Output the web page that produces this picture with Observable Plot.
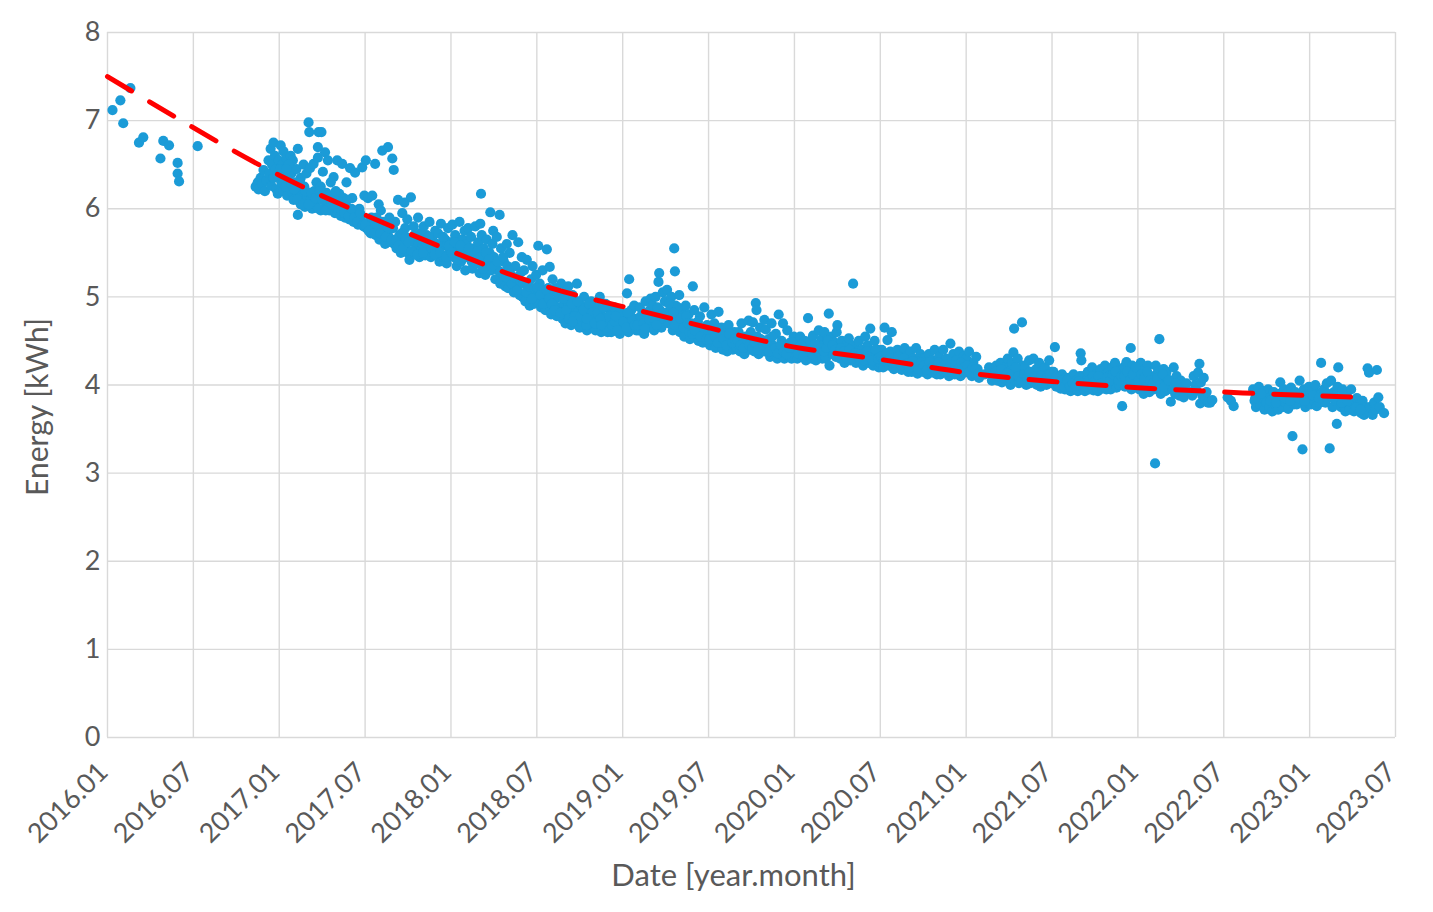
<!DOCTYPE html>
<html>
<head>
<meta charset="utf-8">
<script src="https://cdn.jsdelivr.net/npm/d3@7"></script>
<script src="https://cdn.jsdelivr.net/npm/@observablehq/plot@0.6"></script>
<style>
  html, body { margin: 0; padding: 0; background: #fff; }
  #chart svg { display: block; }
</style>
</head>
<body>
<div id="chart"></div>
<script>
// Tick labels (every 6 months from 2016.01)
const tickLabels = ["2016.01","2016.07","2017.01","2017.07","2018.01","2018.07","2019.01","2019.07","2020.01","2020.07","2021.01","2021.07","2022.01","2022.07","2023.01","2023.07"];
const yTicks = [0,1,2,3,4,5,6,7,8];

// Measured energy: [month offset within year (0 = Jan 1), kWh]
const e2016 = [[0.35,7.12],[0.9,7.23],[1.6,7.37],[1.1,6.97],[2.2,6.75],[2.5,6.81],[3.7,6.57],[3.9,6.77],[4.3,6.72],[4.9,6.52],[4.9,6.40],[5.0,6.31],[6.3,6.71],
[10.35,6.25],[10.5,6.3],[10.55,6.22],[10.7,6.35],[10.8,6.28],[10.9,6.44],[11.0,6.2],[11.1,6.32],[11.25,6.55],[11.3,6.4],[11.4,6.68],[11.45,6.26],[11.5,6.5],[11.6,6.75],[11.6,6.35],[11.7,6.6],[11.75,6.45],[11.8,6.22],[11.9,6.17],[11.9,6.38],[11.95,6.55]];

const e2017 = [[0.1,6.72],[0.15,6.3],[0.2,6.5],[0.3,6.65],[0.3,6.2],[0.4,6.4],[0.5,6.58],[0.55,6.15],[0.6,6.33],[0.7,6.48],[0.75,6.25],[0.8,6.6],[0.85,6.4],[0.9,6.18],[0.95,6.55],
[1.0,6.1],[1.1,6.3],[1.2,6.45],[1.3,5.93],[1.3,6.68],[1.4,6.2],[1.5,6.05],[1.5,6.35],[1.6,6.12],[1.7,6.5],[1.75,6.25],[1.8,6.02],[1.9,6.4],[1.95,6.15],[2.05,6.98],[2.1,6.87],
[2.15,6.46],[2.2,6.1],[2.3,6.0],[2.4,6.51],[2.45,6.2],[2.5,6.05],[2.6,6.3],[2.7,6.7],[2.7,6.58],[2.75,6.87],[2.8,6.12],[2.9,5.98],[2.95,6.87],[2.9,6.25],
[3.05,6.42],[3.1,6.0],[3.2,6.64],[3.3,6.18],[3.35,6.05],[3.4,6.55],[3.5,5.98],[3.6,6.3],[3.7,6.02],[3.8,6.36],[3.85,6.1],[3.9,5.95],
[4.0,6.0],[4.05,6.55],[4.1,5.95],[4.2,6.17],[4.3,5.92],[4.4,6.51],[4.45,6.05],[4.5,6.12],[4.6,5.9],[4.7,6.3],[4.8,6.0],[4.9,5.88],[4.95,6.46],
[5.0,5.9],[5.1,6.12],[5.2,5.85],[5.3,6.41],[5.4,5.92],[5.5,5.82],[5.6,6.0],[5.7,5.88],[5.8,6.47],[5.9,5.8],[5.95,6.15],
[6.05,6.55],[6.1,5.78],[6.2,6.12],[6.3,5.85],[6.4,5.72],[6.5,6.15],[6.6,5.8],[6.7,6.51],[6.75,5.7],[6.8,5.9],[6.9,5.75],[6.95,6.05],
[7.0,5.65],[7.1,5.98],[7.2,6.66],[7.3,5.75],[7.4,5.6],[7.5,5.82],[7.6,6.7],[7.6,5.7],[7.7,5.9],[7.8,5.62],[7.9,6.57],[7.95,5.78],
[8.0,6.44],[8.05,5.6],[8.1,5.85],[8.2,5.55],[8.3,6.1],[8.4,5.7],[8.5,5.5],[8.6,5.95],[8.7,5.62],[8.75,6.07],[8.8,5.78],[8.9,5.52],[8.95,5.88],
[9.0,5.5],[9.1,5.42],[9.2,6.13],[9.3,5.65],[9.4,5.8],[9.5,5.48],[9.6,5.58],[9.7,5.9],[9.8,5.45],[9.85,5.72],[9.95,5.55],
[10.0,5.6],[10.1,5.8],[10.2,5.47],[10.3,5.7],[10.4,5.55],[10.5,5.85],[10.6,5.45],[10.7,5.65],[10.8,5.52],[10.9,5.75],[10.95,5.6],
[11.0,5.5],[11.1,5.72],[11.2,5.4],[11.3,5.83],[11.4,5.58],[11.5,5.45],[11.6,5.65],[11.7,5.38],[11.8,5.78],[11.9,5.52],[11.95,5.62]];

const e2018 = [[0.0,5.6],[0.1,5.82],[0.2,5.45],[0.3,5.7],[0.4,5.35],[0.5,5.55],[0.6,5.85],[0.7,5.4],[0.8,5.65],[0.9,5.5],[0.95,5.75],
[1.0,5.3],[1.1,5.6],[1.2,5.78],[1.3,5.45],[1.4,5.68],[1.5,5.32],[1.6,5.55],[1.7,5.8],[1.8,5.38],[1.9,5.62],[1.95,5.5],[2.1,6.17],[2.05,5.83],
[2.0,5.27],[2.15,5.7],[2.2,5.4],[2.3,5.55],[2.4,5.25],[2.5,5.65],[2.6,5.35],[2.7,5.5],[2.75,5.96],[2.8,5.3],[2.9,5.6],[2.95,5.75],
[3.0,5.45],[3.1,5.2],[3.2,5.68],[3.3,5.3],[3.4,5.93],[3.45,5.15],[3.5,5.55],[3.6,5.25],[3.7,5.4],[3.8,5.12],[3.9,5.6],[3.95,5.35],
[4.0,5.1],[4.1,5.5],[4.2,5.25],[4.3,5.7],[4.4,5.05],[4.5,5.35],[4.6,5.15],[4.7,5.62],[4.8,5.02],[4.9,5.28],[4.95,5.45],
[5.0,5.0],[5.1,5.3],[5.2,4.95],[5.3,5.42],[5.4,5.1],[5.5,4.9],[5.6,5.2],[5.7,5.35],[5.8,4.92],[5.9,5.05],[5.95,5.25],
[6.0,4.95],[6.1,5.58],[6.2,5.15],[6.3,4.88],[6.4,5.3],[6.5,5.0],[6.6,4.85],[6.7,5.54],[6.8,5.1],[6.85,4.9],[6.9,5.34],[6.95,5.05],
[7.0,4.8],[7.1,5.2],[7.2,4.95],[7.3,5.1],[7.4,4.78],[7.5,5.0],[7.6,4.88],[7.7,5.15],[7.8,4.75],[7.9,4.92],[7.95,5.05],
[8.0,4.7],[8.1,4.95],[8.2,5.12],[8.3,4.8],[8.4,4.68],[8.5,5.02],[8.6,4.88],[8.7,4.72],[8.8,5.15],[8.9,4.85],[8.95,4.75],
[9.0,4.65],[9.1,4.9],[9.2,4.72],[9.3,5.0],[9.4,4.8],[9.5,4.62],[9.6,4.85],[9.7,4.7],[9.8,4.95],[9.9,4.75],[9.95,4.66],
[10.0,4.8],[10.1,4.62],[10.2,4.88],[10.3,4.7],[10.4,5.0],[10.5,4.6],[10.6,4.78],[10.7,4.66],[10.8,4.92],[10.9,4.72],[10.95,4.6],
[11.0,4.65],[11.1,4.85],[11.2,4.6],[11.3,4.75],[11.4,4.88],[11.5,4.62],[11.6,4.7],[11.7,4.8],[11.8,4.58],[11.9,4.72],[11.95,4.65]];

const e2019 = [[0.0,4.62],[0.1,4.78],[0.2,4.68],[0.3,5.04],[0.4,4.6],[0.45,5.2],[0.5,4.72],[0.6,4.85],[0.7,4.65],[0.8,4.9],[0.9,4.7],[0.95,4.62],
[1.0,4.75],[1.1,4.62],[1.2,4.88],[1.3,4.68],[1.4,4.8],[1.5,4.58],[1.6,4.95],[1.7,4.72],[1.8,4.65],[1.9,4.85],[1.95,4.98],
[2.0,4.7],[2.1,4.9],[2.2,4.62],[2.3,5.0],[2.4,4.78],[2.5,5.17],[2.55,5.27],[2.6,4.85],[2.7,4.65],[2.8,5.05],[2.9,4.75],[2.95,4.95],
[3.0,4.95],[3.1,5.08],[3.2,4.7],[3.3,4.85],[3.4,5.0],[3.5,4.62],[3.6,5.55],[3.65,5.29],[3.7,4.9],[3.8,4.68],[3.9,4.8],[3.95,5.02],
[4.0,4.6],[4.1,4.85],[4.2,4.72],[4.3,4.55],[4.4,4.9],[4.5,4.65],[4.6,4.8],[4.7,4.52],[4.8,4.7],[4.9,5.12],[4.95,4.6],
[5.0,4.85],[5.1,4.55],[5.2,4.7],[5.3,4.5],[5.4,4.78],[5.5,4.62],[5.6,4.48],[5.7,4.88],[5.8,4.58],[5.9,4.68],[5.95,4.5],
[6.0,4.6],[6.1,4.45],[6.2,4.8],[6.3,4.52],[6.4,4.7],[6.5,4.42],[6.6,4.58],[6.7,4.83],[6.8,4.48],[6.9,4.65],[6.95,4.45],
[7.0,4.4],[7.1,4.62],[7.2,4.5],[7.3,4.38],[7.4,4.68],[7.5,4.45],[7.6,4.55],[7.7,4.4],[7.8,4.6],[7.9,4.48],[7.95,4.42],
[8.0,4.42],[8.1,4.6],[8.2,4.38],[8.3,4.7],[8.4,4.5],[8.5,4.35],[8.6,4.55],[8.7,4.45],[8.8,4.73],[8.9,4.4],[8.95,4.6],
[9.0,4.5],[9.1,4.71],[9.2,4.38],[9.3,4.93],[9.35,4.85],[9.4,4.55],[9.5,4.35],[9.6,4.65],[9.7,4.42],[9.8,4.5],[9.9,4.74],[9.95,4.38],
[10.0,4.63],[10.1,4.4],[10.2,4.52],[10.3,4.32],[10.4,4.7],[10.5,4.45],[10.6,4.35],[10.7,4.58],[10.8,4.3],[10.9,4.8],[10.95,4.42],
[11.0,4.35],[11.1,4.5],[11.2,4.7],[11.3,4.3],[11.4,4.42],[11.5,4.62],[11.6,4.33],[11.7,4.48],[11.8,4.3],[11.9,4.4],[11.95,4.55]];

const e2020 = [[0.0,4.35],[0.1,4.48],[0.2,4.3],[0.3,4.42],[0.4,4.55],[0.5,4.32],[0.6,4.38],[0.7,4.5],[0.8,4.28],[0.9,4.4],[0.95,4.76],
[1.0,4.33],[1.1,4.5],[1.2,4.3],[1.3,4.56],[1.4,4.4],[1.5,4.28],[1.6,4.45],[1.7,4.62],[1.8,4.35],[1.9,4.52],[1.95,4.3],
[2.0,4.45],[2.1,4.6],[2.2,4.3],[2.3,4.52],[2.4,4.81],[2.45,4.22],[2.5,4.4],[2.6,4.55],[2.7,4.35],[2.8,4.48],[2.9,4.32],[2.95,4.6],
[3.0,4.68],[3.1,4.4],[3.2,4.3],[3.3,4.5],[3.4,4.35],[3.5,4.25],[3.6,4.45],[3.7,4.32],[3.8,4.53],[3.9,4.28],[3.95,4.38],
[4.0,4.35],[4.1,5.15],[4.15,4.3],[4.2,4.45],[4.3,4.25],[4.4,4.38],[4.5,4.5],[4.6,4.28],[4.7,4.4],[4.8,4.22],[4.9,4.35],[4.95,4.55],
[5.0,4.3],[5.1,4.45],[5.2,4.25],[5.3,4.64],[5.4,4.38],[5.5,4.22],[5.6,4.5],[5.7,4.3],[5.8,4.4],[5.9,4.2],[5.95,4.35],
[6.0,4.25],[6.1,4.4],[6.2,4.2],[6.3,4.65],[6.4,4.33],[6.5,4.51],[6.6,4.22],[6.7,4.38],[6.8,4.6],[6.9,4.28],[6.95,4.18],
[7.0,4.3],[7.1,4.2],[7.2,4.4],[7.3,4.25],[7.4,4.35],[7.5,4.17],[7.6,4.28],[7.7,4.42],[7.8,4.2],[7.9,4.33],[7.95,4.15],
[8.0,4.25],[8.1,4.38],[8.2,4.15],[8.3,4.3],[8.4,4.2],[8.5,4.42],[8.6,4.13],[8.7,4.27],[8.8,4.35],[8.9,4.18],[8.95,4.3],
[9.0,4.15],[9.1,4.3],[9.2,4.22],[9.3,4.12],[9.4,4.35],[9.5,4.2],[9.6,4.28],[9.7,4.14],[9.8,4.4],[9.9,4.25],[9.95,4.12],
[10.0,4.2],[10.1,4.32],[10.2,4.12],[10.3,4.25],[10.4,4.4],[10.5,4.15],[10.6,4.3],[10.7,4.18],[10.8,4.1],[10.9,4.47],[10.95,4.25],
[11.0,4.2],[11.1,4.35],[11.2,4.12],[11.3,4.28],[11.4,4.15],[11.5,4.38],[11.6,4.1],[11.7,4.22],[11.8,4.32],[11.9,4.14],[11.95,4.25]];

const e2021 = [[0.0,4.3],[0.1,4.15],[0.2,4.38],[0.3,4.2],[0.4,4.1],[0.5,4.25],[0.6,4.12],[0.7,4.32],[0.8,4.18],[0.9,4.08],
[1.3,4.12],[1.6,4.2],[1.8,4.05],[1.9,4.15],
[2.0,4.08],[2.1,4.22],[2.2,4.05],[2.3,4.15],[2.4,4.25],[2.5,4.03],[2.6,4.12],[2.7,4.2],[2.8,4.06],[2.9,4.3],[2.95,4.1],
[3.0,4.15],[3.1,4.0],[3.2,4.25],[3.3,4.37],[3.35,4.64],[3.4,4.05],[3.5,4.18],[3.6,4.3],[3.7,4.02],[3.8,4.12],[3.9,4.71],[3.95,4.22],
[4.0,4.05],[4.1,4.2],[4.2,4.0],[4.3,4.12],[4.4,4.28],[4.5,4.02],[4.6,4.15],[4.7,4.3],[4.8,4.05],[4.9,4.18],[4.95,4.0],
[5.0,4.1],[5.1,4.25],[5.2,3.98],[5.3,4.15],[5.4,4.05],[5.5,4.2],[5.6,4.0],[5.7,4.12],[5.8,4.28],[5.9,4.02],[5.95,4.15],
[6.0,4.05],[6.1,4.15],[6.2,4.43],[6.3,3.98],[6.4,4.1],[6.5,4.02],[6.6,3.96],[6.7,4.12],[6.8,4.05],[6.9,3.95],[6.95,4.08],
[7.0,4.0],[7.1,3.95],[7.2,4.08],[7.3,3.93],[7.4,4.03],[7.5,4.12],[7.6,3.96],[7.7,4.05],[7.8,3.93],[7.9,4.0],[7.95,4.1],
[8.0,4.36],[8.05,4.28],[8.1,3.98],[8.2,4.1],[8.3,3.93],[8.4,4.05],[8.5,4.15],[8.6,3.95],[8.7,4.02],[8.8,4.2],[8.9,3.94],[8.95,4.08],
[9.0,4.0],[9.1,4.12],[9.2,3.93],[9.3,4.05],[9.4,4.18],[9.5,3.96],[9.6,4.08],[9.7,4.22],[9.8,3.95],[9.9,4.03],[9.95,4.15],
[10.0,4.1],[10.1,3.95],[10.2,4.2],[10.3,4.03],[10.4,4.25],[10.5,3.97],[10.6,4.12],[10.7,4.0],[10.8,4.18],[10.9,3.76],[10.95,4.08],
[11.0,4.2],[11.1,3.98],[11.2,4.26],[11.3,4.05],[11.4,4.15],[11.5,4.42],[11.55,3.95],[11.6,4.22],[11.7,4.1],[11.8,4.0],[11.9,4.18],[11.95,4.05]];

const e2022 = [[0.0,4.12],[0.1,3.95],[0.2,4.25],[0.3,4.05],[0.4,3.9],[0.5,4.18],[0.6,4.0],[0.7,4.22],[0.8,3.92],[0.9,4.1],[0.95,4.02],
[1.0,4.08],[1.1,3.95],[1.2,3.11],[1.25,4.22],[1.3,4.0],[1.4,4.15],[1.5,4.52],[1.6,3.9],[1.7,4.05],[1.8,4.18],[1.9,3.93],[1.95,4.1],
[2.0,4.15],[2.1,3.95],[2.3,3.81],[2.4,4.05],[2.5,4.2],[2.6,3.9],[2.7,4.1],[2.8,4.0],[2.9,3.88],
[3.0,4.05],[3.1,3.95],[3.2,3.86],[3.4,4.02],[3.6,3.92],[3.8,3.88],[3.9,4.1],
[4.0,4.0],[4.1,3.94],[4.2,4.14],[4.3,4.24],[4.35,3.79],[4.4,4.03],[4.5,3.88],[4.6,4.08],[4.7,3.85],[4.8,3.92],[4.9,3.8],
[5.05,3.8],[5.2,3.83],
[6.27,3.86],[6.5,3.82],[6.69,3.76],
[8.05,3.95],[8.15,3.82],[8.25,3.75],[8.35,3.9],[8.45,3.98],[8.55,3.78],[8.65,3.85],[8.75,3.93],[8.85,3.72],[8.95,3.88],
[9.0,3.8],[9.1,3.95],[9.2,3.75],[9.3,3.87],[9.4,3.7],[9.5,3.92],[9.6,3.78],[9.7,3.85],[9.8,3.72],[9.9,3.9],[9.95,4.03],
[10.0,3.85],[10.1,3.75],[10.2,3.95],[10.3,3.8],[10.4,3.9],[10.5,3.73],[10.6,3.88],[10.7,3.97],[10.8,3.42],[10.9,3.78],[10.95,3.85],
[11.0,3.92],[11.1,3.78],[11.3,4.05],[11.4,3.85],[11.5,3.27],[11.6,3.95],[11.7,3.75],[11.8,3.88],[11.9,3.8],[11.95,3.98]];

const e2023 = [[0.0,3.85],[0.1,3.78],[0.2,3.95],[0.3,3.82],[0.4,4.0],[0.5,3.76],[0.6,3.9],[0.7,3.8],[0.8,4.25],[0.85,3.92],[0.95,3.85],
[1.0,3.95],[1.1,3.8],[1.2,4.02],[1.4,3.28],[1.45,3.88],[1.5,4.05],[1.6,3.75],[1.7,3.92],[1.8,3.82],[1.9,3.56],[1.95,3.98],
[2.0,4.2],[2.1,3.85],[2.2,3.75],[2.3,3.95],[2.4,3.78],[2.5,3.7],[2.6,3.88],[2.7,3.8],[2.8,3.72],[2.9,3.95],
[3.0,3.8],[3.1,3.7],[3.3,3.85],[3.4,3.72],[3.5,3.78],[3.6,3.68],[3.7,3.82],[3.8,3.66],[3.9,3.75],
[4.0,3.7],[4.05,4.19],[4.15,4.14],[4.2,3.75],[4.4,3.66],[4.5,3.8],[4.6,3.72],[4.7,4.17],[4.8,3.86],[4.9,3.75],[5.2,3.68]];

// Further readings inside the dense band: [month offset within year, kWh]
const d2017 = [[0.05,6.45],[0.25,6.35],[0.45,6.25],[0.65,6.5],[0.85,6.28],[0.5,6.45],
[1.05,6.22],[1.25,6.1],[1.45,6.3],[1.65,6.05],[1.85,6.2],
[2.05,6.05],[2.25,6.18],[2.55,6.12],[2.75,6.0],[2.85,6.2],
[3.0,6.1],[3.25,5.98],[3.45,6.15],[3.65,6.05],[3.95,6.2],
[4.15,6.08],[4.35,5.98],[4.55,5.95],[4.75,6.1],[4.85,5.92],
[5.05,6.0],[5.25,5.9],[5.45,5.85],[5.65,5.95],[5.85,5.82],
[6.0,5.82],[6.25,5.75],[6.45,5.9],[6.65,5.72],[6.85,5.82],
[7.05,5.72],[7.25,5.85],[7.45,5.68],[7.65,5.78],[7.85,5.65],
[8.15,5.65],[8.35,5.58],[8.55,5.72],[8.65,5.55],[8.85,5.68],
[9.05,5.62],[9.25,5.52],[9.45,5.7],[9.65,5.48],[9.9,5.65],
[10.05,5.5],[10.25,5.62],[10.45,5.68],[10.65,5.55],[10.85,5.48],
[11.05,5.6],[11.25,5.5],[11.45,5.68],[11.65,5.45],[11.85,5.58]];

const d2018 = [[0.05,5.5],[0.25,5.62],[0.45,5.42],[0.65,5.58],[0.85,5.45],
[1.05,5.45],[1.25,5.55],[1.45,5.4],[1.65,5.48],[1.85,5.52],
[2.05,5.45],[2.25,5.32],[2.45,5.5],[2.65,5.42],[2.85,5.35],
[3.05,5.35],[3.25,5.4],[3.45,5.28],[3.65,5.45],[3.85,5.22],
[4.05,5.3],[4.25,5.15],[4.45,5.22],[4.65,5.08],[4.85,5.18],
[5.05,5.15],[5.25,5.05],[5.45,5.12],[5.65,4.98],[5.85,5.1],
[6.05,5.1],[6.25,5.02],[6.45,4.92],[6.65,5.08],[6.85,4.98],
[7.05,4.92],[7.25,4.85],[7.45,5.05],[7.65,4.82],[7.85,4.98],
[8.05,4.85],[8.25,4.75],[8.45,4.92],[8.65,4.78],[8.85,4.95],[8.5,4.72],
[9.05,4.78],[9.25,4.85],[9.45,4.68],[9.65,4.92],[9.85,4.82],[9.5,4.75],
[10.05,4.7],[10.25,4.82],[10.45,4.75],[10.65,4.88],[10.85,4.65],[10.5,4.68],
[11.05,4.78],[11.25,4.68],[11.45,4.72],[11.65,4.62],[11.85,4.82],[11.5,4.78]];

const d2019 = [[0.05,4.72],[0.25,4.65],[0.5,4.8],[0.65,4.75],[0.85,4.68],[0.35,4.82],
[1.05,4.68],[1.25,4.78],[1.45,4.7],[1.65,4.82],[1.85,4.74],[1.55,4.64],
[2.05,4.8],[2.25,4.72],[2.45,4.88],[2.65,4.75],[2.85,4.82],[2.35,4.68],
[3.05,4.78],[3.25,4.92],[3.45,4.75],[3.65,4.68],[3.85,4.88],[3.55,4.82],
[4.05,4.75],[4.25,4.65],[4.45,4.78],[4.65,4.6],[4.85,4.58],[4.55,4.7],
[5.05,4.62],[5.25,4.72],[5.45,4.55],[5.65,4.65],[5.85,4.52],
[6.05,4.52],[6.25,4.62],[6.45,4.55],[6.65,4.48],[6.85,4.58],
[7.05,4.52],[7.25,4.45],[7.45,4.58],[7.65,4.48],[7.85,4.52],
[8.05,4.5],[8.25,4.45],[8.45,4.42],[8.65,4.52],[8.85,4.45],
[9.05,4.42],[9.25,4.48],[9.45,4.4],[9.65,4.52],[9.85,4.45],
[10.05,4.48],[10.25,4.38],[10.45,4.55],[10.65,4.42],[10.85,4.36],
[11.05,4.45],[11.25,4.38],[11.45,4.35],[11.65,4.42],[11.85,4.48]];

const d2020 = [[0.05,4.42],[0.25,4.36],[0.45,4.45],[0.65,4.33],[0.85,4.38],
[1.05,4.4],[1.25,4.35],[1.45,4.46],[1.65,4.38],[1.85,4.42],
[2.05,4.38],[2.25,4.42],[2.35,4.5],[2.65,4.45],[2.85,4.4],
[3.05,4.35],[3.25,4.42],[3.45,4.38],[3.65,4.3],[3.85,4.4],
[4.05,4.3],[4.25,4.36],[4.45,4.32],[4.65,4.35],[4.85,4.28],
[5.05,4.38],[5.25,4.32],[5.45,4.28],[5.65,4.4],[5.85,4.3],
[6.05,4.32],[6.25,4.28],[6.45,4.36],[6.65,4.3],[6.85,4.25],
[7.05,4.25],[7.25,4.32],[7.45,4.22],[7.65,4.3],[7.85,4.24],
[8.05,4.2],[8.25,4.27],[8.45,4.22],[8.65,4.18],[8.85,4.25],
[9.05,4.22],[9.25,4.17],[9.45,4.26],[9.65,4.2],[9.85,4.18],
[10.05,4.25],[10.25,4.18],[10.45,4.22],[10.65,4.15],[10.85,4.2],
[11.05,4.15],[11.25,4.22],[11.45,4.18],[11.65,4.25],[11.85,4.2]];

const d2021 = [[0.05,4.22],[0.25,4.15],[0.45,4.2],[0.65,4.18],[0.85,4.13],
[2.05,4.15],[2.25,4.1],[2.45,4.18],[2.65,4.08],[2.85,4.13],
[3.05,4.08],[3.25,4.12],[3.45,4.2],[3.65,4.1],[3.85,4.05],
[4.05,4.12],[4.25,4.08],[4.45,4.15],[4.65,4.05],[4.85,4.1],
[5.05,4.05],[5.25,4.1],[5.45,4.02],[5.65,4.08],[5.85,4.12],
[6.05,4.02],[6.25,4.08],[6.45,4.0],[6.65,4.05],[6.85,3.98],
[7.05,4.05],[7.25,3.98],[7.45,4.02],[7.65,3.99],[7.85,4.04],
[8.15,4.02],[8.35,3.98],[8.55,4.05],[8.75,4.0],[8.85,4.1],
[9.05,4.05],[9.25,4.1],[9.45,4.02],[9.65,4.0],[9.85,4.08],
[10.05,4.05],[10.25,4.12],[10.45,4.15],[10.65,4.05],[10.85,4.1],
[11.05,4.1],[11.25,4.15],[11.45,4.05],[11.65,4.12],[11.85,4.2]];

const d2022 = [[0.05,4.05],[0.25,4.12],[0.45,4.08],[0.65,4.15],[0.85,4.05],
[1.05,4.02],[1.35,4.08],[1.55,4.0],[1.75,4.12],[1.85,3.98],
[2.15,4.05],[2.45,3.95],[2.65,4.02],
[8.2,3.85],[8.6,3.9],[9.25,3.82],[9.65,3.8],[10.25,3.85],[10.65,3.82],[11.25,3.85],[11.65,3.82]];

const d2023 = [[0.25,3.88],[0.65,3.85],[1.25,3.9],[1.65,3.85],[2.25,3.8],[2.65,3.82],[3.25,3.75],[3.55,3.72]];

// Trend line: months since 2016.01 and kWh
const trendMonths = [0, 6, 12, 18, 24, 30, 36, 42, 48, 54, 60, 66, 72, 78, 84, 88];
const trendValues = [7.50, 6.92, 6.38, 5.93, 5.52, 5.15, 4.89, 4.65, 4.43, 4.29, 4.14, 4.04, 3.97, 3.92, 3.88, 3.86];

// Build tables
const years = [[2016, e2016],[2017, e2017],[2018, e2018],[2019, e2019],[2020, e2020],[2021, e2021],[2022, e2022],[2023, e2023],
  [2017, d2017],[2018, d2018],[2019, d2019],[2020, d2020],[2021, d2021],[2022, d2022],[2023, d2023]];
const points = years.flatMap(([yr, arr]) => arr.map(([mo, v]) => ({m: (yr - 2016) * 12 + mo, v})));
const trend = trendMonths.map((m, i) => ({m, v: trendValues[i]}));
const xTicks = tickLabels.map((_, i) => i * 6);

const grey = "#595959";
const chart = Plot.plot({
  width: 1433,
  height: 912,
  marginLeft: 107,
  marginRight: 38,
  marginTop: 32,
  marginBottom: 175,
  x: {domain: [0, 90], axis: null},
  y: {domain: [0, 8], axis: null},
  style: {fontFamily: "Lato, 'Open Sans', sans-serif", background: "white", color: grey},
  marks: [
    Plot.ruleY(yTicks, {y: d => d, stroke: "#d9d9d9", strokeWidth: 1.4, strokeOpacity: 1}),
    Plot.ruleX(xTicks, {x: d => d, stroke: "#d9d9d9", strokeWidth: 1.4, strokeOpacity: 1}),
    Plot.dot(points, {x: "m", y: "v", r: 5.1, fill: "#1b9bd7", stroke: null}),
    Plot.line(trend, {x: "m", y: "v", stroke: "#ff0000", strokeWidth: 5, strokeDasharray: "28,21", strokeLinecap: "round", curve: "natural"}),
    Plot.text(yTicks, {x: 0, y: d => d, text: d => String(d), textAnchor: "end", dx: -7, fontSize: 27, fill: grey}),
    Plot.text(xTicks, {x: d => d, y: 0, text: (d, i) => tickLabels[i], rotate: -45, textAnchor: "end", dx: -4, dy: 30, fontSize: 27, fill: grey}),
    Plot.text(["Date [year.month]"], {frameAnchor: "bottom", textAnchor: "middle", text: d => d, dx: -18, dy: 148, fontSize: 31, fill: grey}),
    Plot.text(["Energy [kWh]"], {frameAnchor: "left", textAnchor: "middle", lineAnchor: "middle", text: d => d, rotate: -90, dx: -69, dy: 22, fontSize: 30, fill: grey})
  ]
});
document.getElementById("chart").appendChild(chart);
</script>
</body>
</html>
